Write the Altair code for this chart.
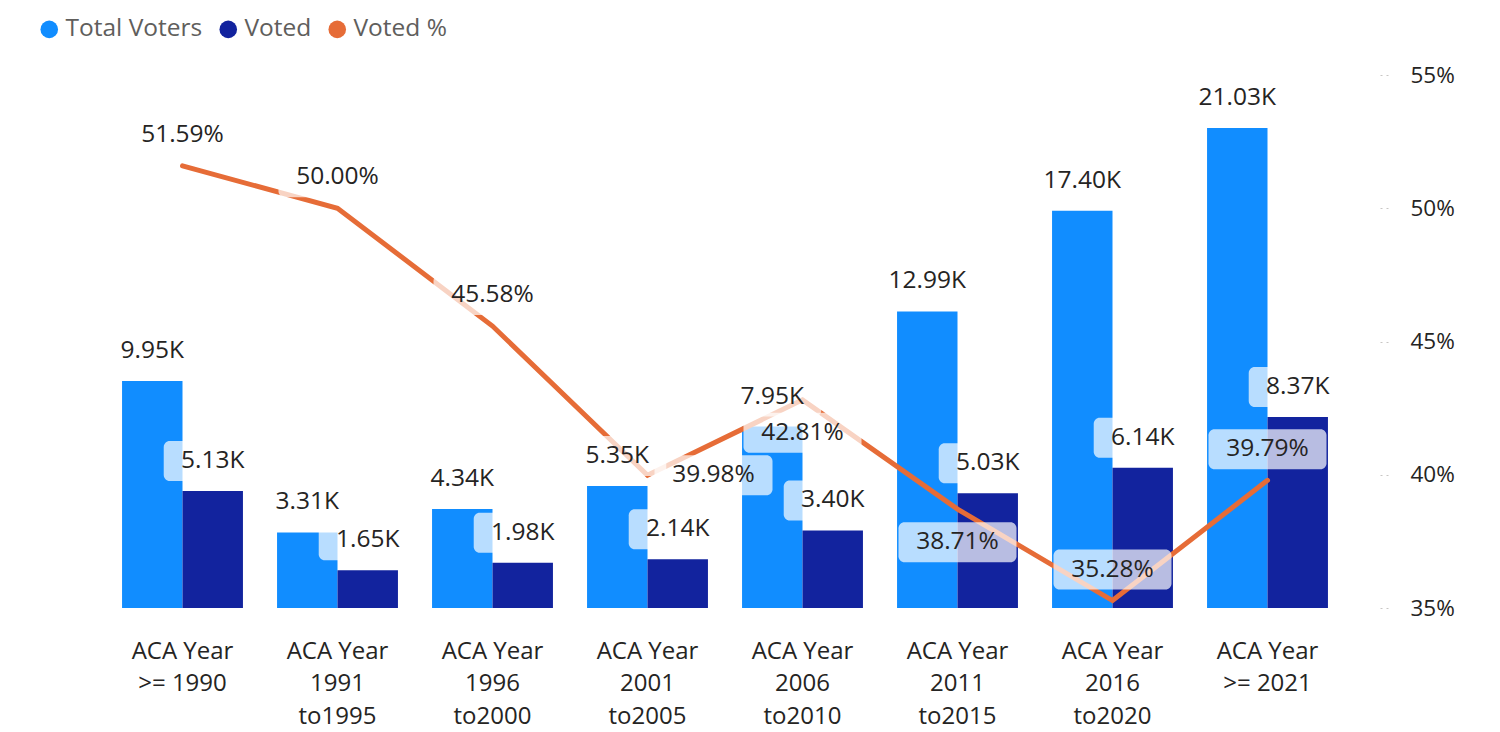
import altair as alt
import pandas as pd

# ---- data ----
categories = [
    "ACA Year|>= 1990", "ACA Year|1991|to1995", "ACA Year|1996|to2000",
    "ACA Year|2001|to2005", "ACA Year|2006|to2010", "ACA Year|2011|to2015",
    "ACA Year|2016|to2020", "ACA Year|>= 2021",
]
total_voters_k = [9.95, 3.31, 4.34, 5.35, 7.95, 12.99, 17.40, 21.03]
voted_k = [5.13, 1.65, 1.98, 2.14, 3.40, 5.03, 6.14, 8.37]
voted_pct = [51.59, 50.00, 45.58, 39.98, 42.81, 38.71, 35.28, 39.79]
pct_label_side = ["above", "above", "above", "right", "below", "below", "above", "above"]
series_names = ["Total Voters", "Voted", "Voted %"]
series_colors = ["#118DFF", "#12239E", "#E66C37"]

# ---- layout / style ----
FONT = "Open Sans"
FS = 24.5
FS_X = 24
FS_AX = 22.5
TXT = "#252423"
W, H = 1240, 533
K_MAX = 23.35
P_MIN, P_MAX = 35, 55
K_PX = H / K_MAX
P_PX = H / (P_MAX - P_MIN)

rows = []
for c, t, v in zip(categories, total_voters_k, voted_k):
    rows.append({"cat": c, "series": "Total Voters", "value": t, "label": f"{t:.2f}K"})
    rows.append({"cat": c, "series": "Voted", "value": v, "label": f"{v:.2f}K"})
bars_df = pd.DataFrame(rows)
bars_df["label_y"] = bars_df["value"] + 30 / K_PX

pct_df = pd.DataFrame({"cat": categories, "pct": voted_pct, "side": pct_label_side})
pct_df["label"] = pct_df["pct"].map(lambda p: f"{p:.2f}%")
pct_df["label_y"] = [
    p + 31 / P_PX if s == "above" else (p - 33 / P_PX if s == "below" else p)
    for p, s in zip(voted_pct, pct_label_side)
]


def rrect(x0, x1, y0, y1, r):
    return (f"M{x0+r},{y0}H{x1-r}A{r},{r} 0 0 1 {x1},{y0+r}V{y1-r}"
            f"A{r},{r} 0 0 1 {x1-r},{y1}H{x0+r}A{r},{r} 0 0 1 {x0},{y1-r}"
            f"V{y0+r}A{r},{r} 0 0 1 {x0+r},{y0}Z")

# symbol size 40000 -> 1 unit = 100 px
BOX_K = rrect(-0.49, 0.49, -0.2, 0.2, 0.06)
BOX_P = rrect(-0.59, 0.59, -0.2, 0.2, 0.06)
BOX_P_RIGHT = rrect(0.07, 1.25, -0.2, 0.2, 0.06)

x_enc = alt.X(
    "cat:N",
    sort=categories,
    scale=alt.Scale(domain=categories, paddingInner=0.22, paddingOuter=0.11),
    axis=alt.Axis(
        title=None, labelAngle=0, domain=False, ticks=False, grid=False,
        labelExpr="split(datum.label, '|')", labelFont=FONT, labelFontSize=FS_X,
        labelColor=TXT, labelLineHeight=32.5, labelPadding=31, labelBaseline="top",
    ),
)
x_plain = alt.X("cat:N", sort=categories)
xoff = alt.XOffset("series:N", sort=["Total Voters", "Voted"],
                   scale=alt.Scale(domain=["Total Voters", "Voted"], paddingInner=0, paddingOuter=0))
k_scale = alt.Scale(domain=[0, K_MAX], nice=False, zero=True)
p_scale = alt.Scale(domain=[P_MIN, P_MAX], nice=False, zero=False)

bars = alt.Chart(bars_df).mark_bar().encode(
    x=x_enc,
    xOffset=xoff,
    y=alt.Y("value:Q", scale=k_scale, axis=None),
    color=alt.Color(
        "series:N",
        scale=alt.Scale(domain=series_names, range=series_colors),
        legend=alt.Legend(
            title=None, orient="none", direction="horizontal", legendX=-68, legendY=-58,
            symbolType="circle", symbolSize=310, symbolStrokeWidth=0,
            labelFont=FONT, labelFontSize=FS, labelColor="#605E5C",
            labelOffset=4, columnPadding=13,
        ),
    ),
)

line = alt.Chart(pct_df).mark_line(color="#E66C37", strokeWidth=5, strokeCap="round").encode(
    x=x_plain,
    y=alt.Y("pct:Q", scale=p_scale, axis=alt.Axis(
        orient="right", title=None, values=[35, 40, 45, 50, 55],
        labelExpr="datum.value + '%'", domain=False, grid=False,
        ticks=True, tickSize=12, tickDash=[2, 4], tickColor="#C8C6C4", tickWidth=1,
        offset=35, labelPadding=18, labelFont=FONT, labelFontSize=FS_AX, labelColor=TXT,
    )),
)

k_box = alt.Chart(bars_df).mark_point(
    shape=BOX_K, size=40000, filled=True, fill="white", fillOpacity=0.7, strokeWidth=0, opacity=1
).encode(x=x_plain, xOffset=xoff, y=alt.Y("label_y:Q", scale=k_scale, axis=None))

k_text = alt.Chart(bars_df).mark_text(
    font=FONT, fontSize=FS, color=TXT, baseline="middle", align="center"
).encode(x=x_plain, xOffset=xoff, y=alt.Y("label_y:Q", scale=k_scale, axis=None), text="label:N")

p_box = alt.Chart(pct_df).transform_filter("datum.side != 'right'").mark_point(
    shape=BOX_P, size=40000, filled=True, fill="white", fillOpacity=0.7, strokeWidth=0, opacity=1
).encode(x=x_plain, y=alt.Y("label_y:Q", scale=p_scale, axis=None))

p_box_r = alt.Chart(pct_df).transform_filter("datum.side == 'right'").mark_point(
    shape=BOX_P_RIGHT, size=40000, filled=True, fill="white", fillOpacity=0.7, strokeWidth=0, opacity=1
).encode(x=x_plain, y=alt.Y("label_y:Q", scale=p_scale, axis=None))

p_text = alt.Chart(pct_df).transform_filter("datum.side != 'right'").mark_text(
    font=FONT, fontSize=FS, color=TXT, baseline="middle", align="center"
).encode(x=x_plain, y=alt.Y("label_y:Q", scale=p_scale, axis=None), text="label:N")

p_text_r = alt.Chart(pct_df).transform_filter("datum.side == 'right'").mark_text(
    font=FONT, fontSize=FS, color=TXT, baseline="middle", align="center", dx=66
).encode(x=x_plain, y=alt.Y("label_y:Q", scale=p_scale, axis=None), text="label:N")

chart = alt.layer(
    bars, line, k_box, k_text, p_box, p_box_r, p_text, p_text_r
).resolve_scale(y="independent").properties(
    width=W, height=H,
    autosize=alt.AutoSizeParams(type="none"),
    padding={"left": 97, "top": 67, "right": 140, "bottom": 124},
).configure_view(stroke=None)

chart.save("out.html", embed_options={"renderer": "svg", "actions": False})
